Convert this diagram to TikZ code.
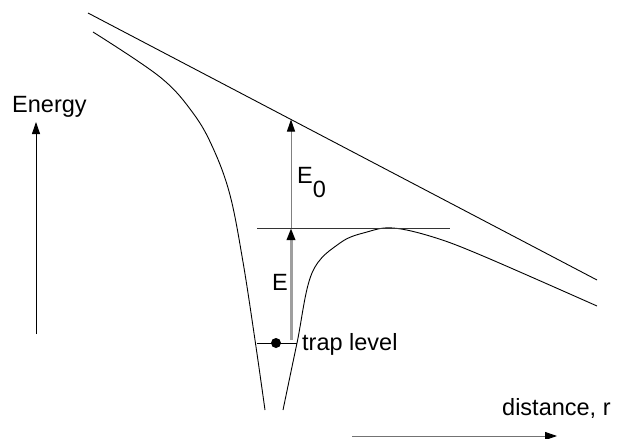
\documentclass[tikz,border=0pt]{standalone}
\usepackage{fontspec}
\setmainfont{Liberation Sans}
\usetikzlibrary{arrows.meta,positioning}

\begin{document}
\begin{tikzpicture}[x=1pt, y=-1pt, every node/.style={font=\fontsize{23.5}{27}\selectfont, inner sep=0pt}, >={Triangle[length=12pt, width=8pt]}, curve/.style={line width=0.9pt, line join=round}, lbl/.style={anchor=base west}]
	\useasboundingbox (0,0) rectangle (619,439);
	% potential lines
	\coordinate (L1) at (88,13);
	\coordinate (L2) at (597,280);
	\draw[curve] (L1) -- (L2);
	\draw[curve] plot[smooth, tension=0.6] coordinates {(93,32) (160,77) (193,113) (213,148) (230,195) (243,262) (255,340) (265,410)};
	\draw[curve] plot[smooth, tension=0.6] coordinates {(283,410) (297,343) (312,273) (340,243) (367,232) (393,228) (433,237) (483,256) (597,306)};
	% barrier top and trap level
	\coordinate (B1) at (257,228);
	\coordinate (B2) at (450,228);
	\draw[line width=0.9pt, black!80] (B1) -- (B2);
	\coordinate (T1) at (257,343);
	\coordinate (T2) at (297,343);
	\draw[line width=0.9pt] (T1) -- (T2);
	\node[circle, fill=black, minimum size=10pt] (dot) at (276,343) {};
	% energy arrows
	\coordinate (Etop) at (291,228);
	\coordinate (Ebot) at (291,340);
	\coordinate (E0top) at (291,119.5);
	\draw[line width=3pt, gray!75, -{Triangle[length=12pt, width=8pt, black]}] (Ebot) -- (Etop);
	\draw[line width=0.9pt, gray, -{Triangle[length=12pt, width=8pt, black]}] (Etop) -- (E0top);
	\node[lbl] (E) at (272,290) {E};
	\node[lbl] (E0) at (297,183) {E\raisebox{-14pt}{0}};
	\node[lbl] (trap) at (302,350) {trap level};
	% axes
	\coordinate (y0) at (36,334);
	\coordinate (y1) at (36,122);
	\draw[->, line width=0.9pt] (y0) -- (y1);
	\node[lbl] (energy) at (12,112) {Energy};
	\coordinate (x0) at (352,436);
	\coordinate (x1) at (557,436);
	\draw[line width=0.9pt, gray!90!black, -{Triangle[length=12pt, width=8pt, black]}] (x0) -- (x1);
	\node[lbl] (dist) at (502,415) {distance, r};
\end{tikzpicture}
\end{document}
